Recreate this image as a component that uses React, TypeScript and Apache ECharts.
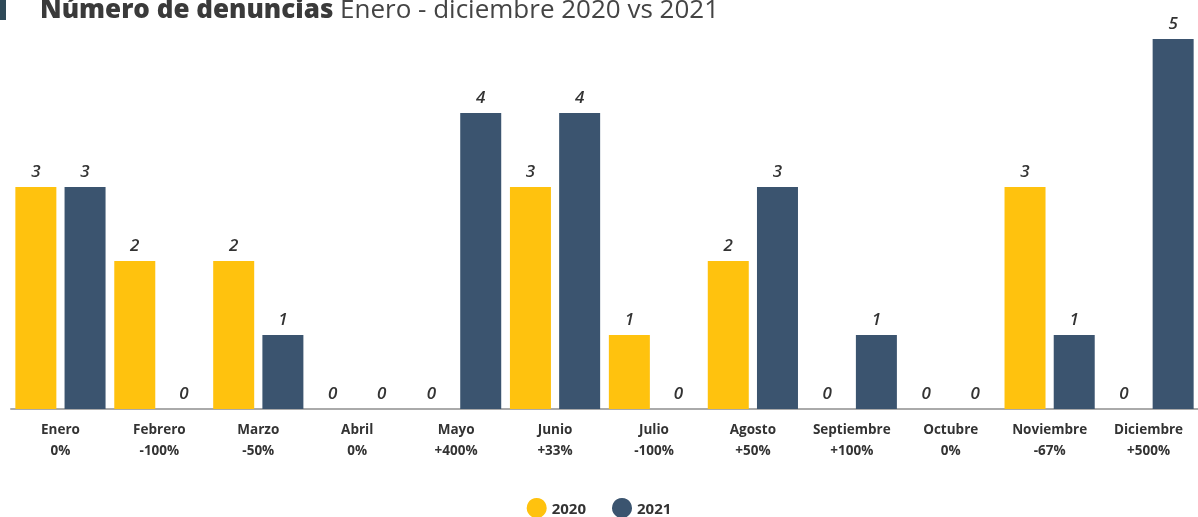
import React, { useEffect, useRef } from "react";
import * as echarts from "echarts";

const months = ["Enero", "Febrero", "Marzo", "Abril", "Mayo", "Junio", "Julio", "Agosto", "Septiembre", "Octubre", "Noviembre", "Diciembre"];
const changes = ["0%", "-100%", "-50%", "0%", "+400%", "+33%", "-100%", "+50%", "+100%", "0%", "-67%", "+500%"];
const values2020 = [3, 2, 2, 0, 0, 3, 1, 2, 0, 0, 3, 0];
const values2021 = [3, 0, 1, 0, 4, 4, 0, 3, 1, 0, 1, 5];

const YELLOW = "#FFC20E";
const NAVY = "#3B546F";
const FONT = "'Open Sans', 'Noto Sans', sans-serif";

export default function App() {
  const ref = useRef<HTMLDivElement>(null);
  useEffect(() => {
    if (!ref.current) return;
    const chart = echarts.init(ref.current, null, { renderer: "svg" });
    const label = {
      show: true,
      position: "top",
      distance: 8,
      fontFamily: FONT,
      fontSize: 17,
      fontStyle: "italic",
      fontWeight: 600,
      color: "#333",
    };
    chart.setOption({
      animation: false,
      textStyle: { fontFamily: FONT },
      graphic: [
        { type: "rect", shape: { x: 0, y: 0, width: 6, height: 20 }, style: { fill: "#2F4A58" } },
        {
          type: "text",
          x: 40,
          y: -5,
          style: {
            text: "{b|Número de denuncias}  {r|Enero - diciembre 2020 vs 2021}",
            rich: {
              b: { fontFamily: FONT, fontSize: 26, fontWeight: 800, fill: "#3a3a3a" },
              r: { fontFamily: FONT, fontSize: 26, fontWeight: 400, fill: "#444" },
            },
          },
        },
      ],
      legend: {
        top: 498,
        padding: 0,
        left: "center",
        icon: "circle",
        itemWidth: 20,
        itemHeight: 20,
        itemGap: 26,
        textStyle: { fontFamily: FONT, fontSize: 15, fontWeight: 700, color: "#333" },
        data: ["2020", "2021"],
      },
      grid: { left: 11, right: 0, top: 39, bottom: 108, containLabel: false },
      xAxis: {
        type: "category",
        data: months,
        axisLine: { lineStyle: { color: "#aaa", width: 2 } },
        axisTick: { show: false },
        axisLabel: {
          margin: 9,
          interval: 0,
          formatter: (v: string, i: number) => `{m|${v}}\n{p|${changes[i]}}`,
          rich: {
            m: { fontFamily: FONT, fontSize: 13.5, fontWeight: 700, color: "#333", lineHeight: 21 },
            p: { fontFamily: FONT, fontSize: 13.5, fontWeight: 700, color: "#333", lineHeight: 21 },
          },
        },
      },
      yAxis: { type: "value", min: 0, max: 5, show: false, splitLine: { show: false } },
      series: [
        { name: "2020", type: "bar", data: values2020, barWidth: 41, barGap: "20%", itemStyle: { color: YELLOW }, label },
        { name: "2021", type: "bar", data: values2021, barWidth: 41, barGap: "20%", itemStyle: { color: NAVY }, label },
      ],
    });
    return () => chart.dispose();
  }, []);
  return <div ref={ref} style={{ position: "fixed", left: 0, top: 0, width: 1198, height: 517 }} />;
}
